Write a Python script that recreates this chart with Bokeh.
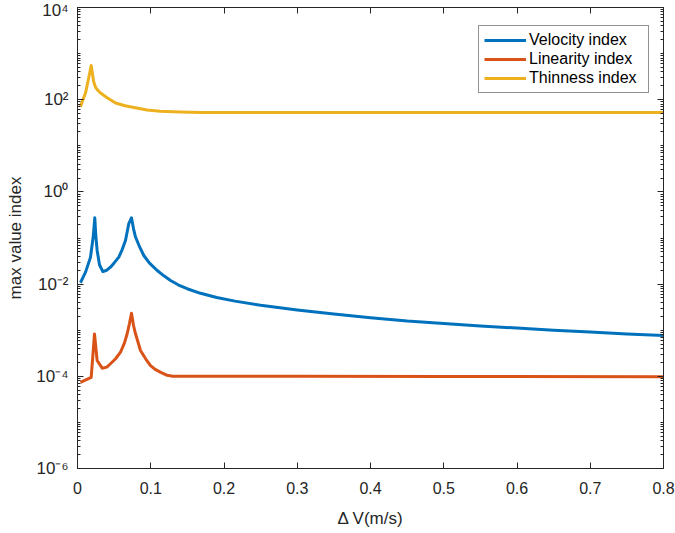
from bokeh.plotting import figure
from bokeh.models import (Range1d, FixedTicker, LinearAxis, LogAxis, Legend, LegendItem,
                          CustomJSTickFormatter)
from bokeh.embed import file_html
from bokeh.resources import INLINE

# ---- data -------------------------------------------------------------
velocity_dv = [0.004, 0.011, 0.0177, 0.0214, 0.0225, 0.0236, 0.025, 0.0268, 0.03, 0.0346,
               0.04, 0.045, 0.05, 0.0564, 0.061, 0.0655, 0.070, 0.0737, 0.0765, 0.0792,
               0.085, 0.0905, 0.098, 0.1088, 0.118, 0.127, 0.138, 0.1497, 0.168, 0.19,
               0.215, 0.25, 0.3, 0.35, 0.4, 0.45, 0.5, 0.55, 0.6, 0.65, 0.7, 0.75, 0.8]
velocity_idx = [0.0107, 0.0182, 0.0380, 0.105, 0.166, 0.275, 0.112, 0.0537, 0.0263, 0.0187,
                0.0200, 0.0233, 0.0288, 0.0384, 0.0562, 0.0883, 0.204, 0.275, 0.158, 0.105,
                0.0631, 0.0417, 0.0288, 0.0197, 0.0151, 0.0120, 0.00955, 0.00794, 0.00631,
                0.00513, 0.00427, 0.00347, 0.00275, 0.00224, 0.00186, 0.00158, 0.00140,
                0.00123, 0.00111, 0.00100, 0.000912, 0.000832, 0.000767]

linearity_dv = [0.004, 0.0187, 0.0232, 0.0268, 0.0337, 0.04, 0.045, 0.052, 0.0587, 0.064,
                0.0678, 0.071, 0.0737, 0.0765, 0.0792, 0.086, 0.093, 0.0997, 0.106, 0.113,
                0.1224, 0.13, 0.3, 0.5, 0.8]
linearity_idx = [7.4e-5, 9.5e-5, 8.3e-4, 2.2e-4, 1.5e-4, 1.58e-4, 1.87e-4, 2.4e-4, 3.33e-4,
                 5.25e-4, 8.36e-4, 1.41e-3, 2.34e-3, 1.26e-3, 8.36e-4, 3.63e-4, 2.4e-4,
                 1.71e-4, 1.41e-4, 1.23e-4, 1.05e-4, 1.0e-4, 1.0e-4, 9.9e-5, 9.8e-5]

thinness_dv = [0.004, 0.011, 0.015, 0.0187, 0.0205, 0.0223, 0.0246, 0.028, 0.031, 0.0405,
               0.052, 0.065, 0.077, 0.095, 0.113, 0.14, 0.168, 0.3, 0.5, 0.8]
thinness_idx = [70.8, 141, 282, 550, 355, 240, 186, 158, 141, 110,
                85, 74, 68, 60, 56, 54, 52.5, 52.5, 52.5, 53]

x_ticks = [0, 0.1, 0.2, 0.3, 0.4, 0.5, 0.6, 0.7, 0.8]
y_ticks = [1e-6, 1e-4, 1e-2, 1e0, 1e2, 1e4]

# ---- styling ----------------------------------------------------------
FONT = "Liberation Sans"
AX = "#262626"
BLUE, ORANGE, YELLOW = "#0072BD", "#D95319", "#EDB120"

y_minor = []
for e in range(-6, 4):
    for m in range(2, 10):
        y_minor.append(m * 10.0 ** e)
    if e % 2 != 0:
        y_minor.append(10.0 ** e)

p = figure(frame_width=586, frame_height=461,
           x_range=Range1d(0, 0.8), y_range=Range1d(1e-6, 1e4),
           y_axis_type="log", output_backend="svg", toolbar_location=None,
           min_border_left=77, min_border_right=12, min_border_top=7, min_border_bottom=65,
           background_fill_color="white", border_fill_color="white")
p.grid.visible = False
p.outline_line_color = AX
p.outline_line_width = 1

sup_fmt = CustomJSTickFormatter(code="""
const s = {'-':'\u207b','0':'\u2070','1':'\u00b9','2':'\u00b2','3':'\u00b3','4':'\u2074',
           '5':'\u2075','6':'\u2076','7':'\u2077','8':'\u2078','9':'\u2079'};
const e = Math.round(Math.log10(tick));
return '10' + String(e).split('').map(c => s[c]).join('');
""")
blank_fmt = CustomJSTickFormatter(code="return '';")

def style_axis(ax, show_labels):
    ax.axis_line_color = AX
    ax.major_tick_in = 6
    ax.major_tick_out = 0
    ax.minor_tick_in = 3
    ax.minor_tick_out = 0
    ax.major_tick_line_color = AX
    ax.minor_tick_line_color = AX
    ax.major_label_text_font = FONT
    ax.major_label_text_color = AX
    ax.major_label_text_font_size = "16px"
    if not show_labels:
        ax.formatter = blank_fmt
        ax.major_label_text_font_size = "1px"
        ax.major_label_standoff = 0

# bottom axis
xb = p.xaxis[0]
xb.ticker = FixedTicker(ticks=x_ticks, minor_ticks=[])
style_axis(xb, True)
xb.major_label_standoff = 13
xb.axis_label = "\u0394 V(m/s)"
xb.axis_label_text_font = FONT
xb.axis_label_text_font_style = "normal"
xb.axis_label_text_font_size = "17px"
xb.axis_label_text_color = AX
xb.axis_label_standoff = 12

# left axis
yl = p.yaxis[0]
yl.ticker = FixedTicker(ticks=y_ticks, minor_ticks=y_minor)
yl.formatter = sup_fmt
style_axis(yl, True)
yl.major_label_standoff = 9
yl.major_label_text_font_size = "17px"
yl.axis_label = "max value index"
yl.axis_label_text_font = FONT
yl.axis_label_text_font_style = "normal"
yl.axis_label_text_font_size = "17px"
yl.axis_label_text_color = AX
yl.axis_label_standoff = 8

# mirrored axes on top and right (ticks only)
xt = LinearAxis(ticker=FixedTicker(ticks=x_ticks, minor_ticks=[]))
style_axis(xt, False)
p.add_layout(xt, "above")
yr = LogAxis(ticker=FixedTicker(ticks=y_ticks, minor_ticks=y_minor))
style_axis(yr, False)
p.add_layout(yr, "right")

# ---- curves -----------------------------------------------------------
r_v = p.line(velocity_dv, velocity_idx, line_color=BLUE, line_width=3, line_join="round")
r_l = p.line(linearity_dv, linearity_idx, line_color=ORANGE, line_width=3, line_join="round")
r_t = p.line(thinness_dv, thinness_idx, line_color=YELLOW, line_width=3, line_join="round")

legend = Legend(items=[LegendItem(label="Velocity index", renderers=[r_v]),
                       LegendItem(label="Linearity index", renderers=[r_l]),
                       LegendItem(label="Thinness index", renderers=[r_t])],
                location=(401, 375), orientation="vertical")
legend.label_text_font = FONT
legend.label_text_font_size = "16px"
legend.label_text_color = "black"
legend.border_line_color = AX
legend.border_line_width = 1
legend.background_fill_color = "white"
legend.background_fill_alpha = 1
legend.padding = 5
legend.margin = 0
legend.spacing = 1
legend.glyph_width = 42
legend.glyph_height = 18
legend.label_height = 18
legend.label_width = 114
legend.label_standoff = 3
p.add_layout(legend, "center")

open("out.html", "w").write(file_html(p, INLINE))
